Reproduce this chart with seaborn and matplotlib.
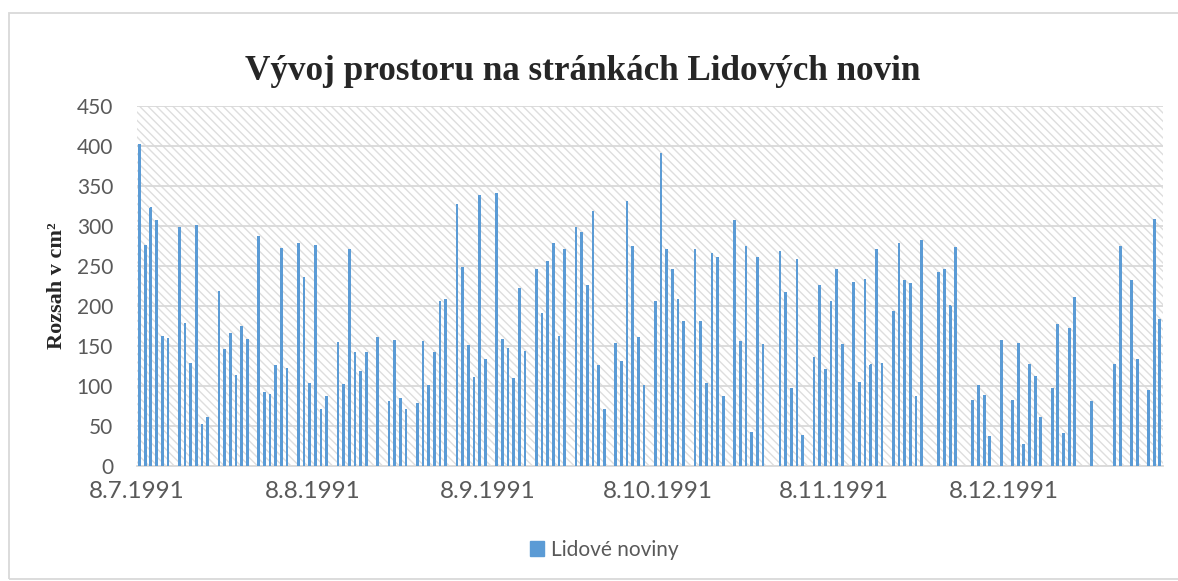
import pandas as pd
import seaborn as sns
import matplotlib.pyplot as plt
from matplotlib.patches import Rectangle, Patch

# vydaná čísla (bez nedělí a svátků) a rozsah v cm2
datum = [
    "8.7.1991", "9.7.1991", "10.7.1991", "11.7.1991", "12.7.1991", "13.7.1991",
    "15.7.1991", "16.7.1991", "17.7.1991", "18.7.1991", "19.7.1991", "20.7.1991",
    "22.7.1991", "23.7.1991", "24.7.1991", "25.7.1991", "26.7.1991", "27.7.1991",
    "29.7.1991", "30.7.1991", "31.7.1991", "1.8.1991", "2.8.1991", "3.8.1991",
    "5.8.1991", "6.8.1991", "7.8.1991", "8.8.1991", "9.8.1991", "10.8.1991",
    "12.8.1991", "13.8.1991", "14.8.1991", "15.8.1991", "16.8.1991", "17.8.1991",
    "19.8.1991", "21.8.1991", "22.8.1991", "23.8.1991", "24.8.1991",
    "26.8.1991", "27.8.1991", "28.8.1991", "29.8.1991", "30.8.1991", "31.8.1991",
    "2.9.1991", "3.9.1991", "4.9.1991", "5.9.1991", "6.9.1991", "7.9.1991",
    "9.9.1991", "10.9.1991", "11.9.1991", "12.9.1991", "13.9.1991", "14.9.1991",
    "16.9.1991", "17.9.1991", "18.9.1991", "19.9.1991", "20.9.1991", "21.9.1991",
    "23.9.1991", "24.9.1991", "25.9.1991", "26.9.1991", "27.9.1991", "28.9.1991",
    "30.9.1991", "1.10.1991", "2.10.1991", "3.10.1991", "4.10.1991", "5.10.1991",
    "7.10.1991", "8.10.1991", "9.10.1991", "10.10.1991", "11.10.1991", "12.10.1991",
    "14.10.1991", "15.10.1991", "16.10.1991", "17.10.1991", "18.10.1991", "19.10.1991",
    "21.10.1991", "22.10.1991", "23.10.1991", "24.10.1991", "25.10.1991", "26.10.1991",
    "29.10.1991", "30.10.1991", "31.10.1991", "1.11.1991", "2.11.1991",
    "4.11.1991", "5.11.1991", "6.11.1991", "7.11.1991", "8.11.1991", "9.11.1991",
    "11.11.1991", "12.11.1991", "13.11.1991", "14.11.1991", "15.11.1991", "16.11.1991",
    "18.11.1991", "19.11.1991", "20.11.1991", "21.11.1991", "22.11.1991", "23.11.1991",
    "26.11.1991", "27.11.1991", "28.11.1991", "29.11.1991",
    "2.12.1991", "3.12.1991", "4.12.1991", "5.12.1991", "7.12.1991",
    "9.12.1991", "10.12.1991", "11.12.1991", "12.12.1991", "13.12.1991", "14.12.1991",
    "16.12.1991", "17.12.1991", "18.12.1991", "19.12.1991", "20.12.1991",
    "23.12.1991", "27.12.1991", "28.12.1991", "30.12.1991", "31.12.1991",
    "2.1.1992", "3.1.1992", "4.1.1992",
]
rozsah = [
    402, 276, 323, 307, 162, 159,
    298, 178, 128, 300, 52, 60,
    218, 145, 165, 113, 174, 158,
    287, 91, 89, 125, 272, 121,
    278, 235, 103, 276, 70, 86,
    154, 102, 270, 141, 118, 142,
    160, 80, 157, 84, 70,
    78, 155, 100, 142, 206, 208,
    327, 248, 150, 110, 338, 133,
    341, 158, 147, 109, 222, 143,
    246, 190, 256, 278, 162, 270,
    298, 292, 225, 318, 125, 70,
    153, 130, 331, 274, 160, 100,
    206, 391, 270, 246, 208, 180,
    270, 180, 103, 266, 260, 86,
    307, 156, 274, 42, 260, 152,
    268, 217, 96, 258, 38,
    135, 226, 120, 206, 246, 152,
    229, 104, 233, 126, 270, 128,
    193, 278, 232, 228, 86, 282,
    242, 245, 200, 273,
    82, 100, 88, 36, 157,
    82, 153, 26, 126, 112, 60,
    97, 177, 40, 172, 210,
    80, 126, 274, 232, 133,
    94, 308, 183,
]
popisky_x = ["8.7.1991", "8.8.1991", "8.9.1991", "8.10.1991", "8.11.1991", "8.12.1991"]
popisky_y = [0, 50, 100, 150, 200, 250, 300, 350, 400, 450]

modra = "#5b9bd5"
seda = "#d9d9d9"
text_seda = "#595959"

df = pd.DataFrame({"datum": pd.to_datetime(datum, format="%d.%m.%Y"), "rozsah": rozsah})
dny = pd.date_range(df["datum"].min(), df["datum"].max(), freq="D")
df = df.set_index("datum").reindex(dny).rename_axis("datum").reset_index()
df["den"] = df["datum"].dt.strftime("%Y-%m-%d")

sns.set_style("white")
plt.rcParams["font.family"] = ["Lato", "DejaVu Sans"]
plt.rcParams["hatch.linewidth"] = 1.0

fig = plt.figure(figsize=(11.78, 5.81), dpi=100)
ax = fig.add_axes([136.7 / 1178, 1 - 465.7 / 581, 1026 / 1178, 359.7 / 581])

# šrafované pozadí plochy grafu
ax.add_patch(Rectangle((0, 0), 1, 1, transform=ax.transAxes, facecolor="white",
                       edgecolor="#dedede", hatch="\\\\\\\\", linewidth=0, zorder=0))

sns.barplot(data=df, x="den", y="rozsah", order=list(df["den"]), color=modra,
            saturation=1, width=0.31, errorbar=None, ax=ax, zorder=3, linewidth=0)
# tenké sloupce bez vyhlazení, ať mají všechny stejnou šířku
for p in ax.patches[1:]:
    p.set_antialiased(False)
    p.set_snap(False)

ax.set_xlim(-0.5, len(df) - 0.5)
ax.set_ylim(0, 450)
ax.set_yticks(popisky_y)
ax.grid(axis="y", color=seda, linewidth=1.3)
for ln in ax.get_ygridlines():
    ln.set_zorder(1)

pozice = [list(df["den"]).index(pd.to_datetime(d, format="%d.%m.%Y").strftime("%Y-%m-%d")) - 0.5
          for d in popisky_x]
ax.set_xticks(pozice)
ax.set_xticklabels(popisky_x)
ax.tick_params(axis="x", length=4, width=1.2, color=seda, labelsize=17.5, labelcolor=text_seda, pad=7)
ax.tick_params(axis="y", length=0, labelsize=15, labelcolor=text_seda, pad=17)
ax.set_xlabel("")
ax.set_ylabel("")
for s in ["top", "right", "left"]:
    ax.spines[s].set_visible(False)
ax.spines["bottom"].set_color(seda)
ax.spines["bottom"].set_linewidth(1.3)

fig.text(582.5 / 1178, 1 - 71 / 581, "Vývoj prostoru na stránkách Lidových novin",
         family="Liberation Serif", fontweight="bold", fontsize=25.3, ha="center", va="center")
fig.text(57 / 1178, 1 - 286 / 581, "Rozsah v cm²", family="Liberation Serif",
         fontweight="bold", fontsize=16, rotation=90, ha="center", va="center")

fig.legend(handles=[Patch(facecolor=modra, edgecolor=modra, label="Lidové noviny")],
           loc="center", bbox_to_anchor=(604 / 1178, 1 - 550 / 581), frameon=False,
           fontsize=15, labelcolor=text_seda, handlelength=0.7, handleheight=0.7,
           handletextpad=0.3)

fig.patches.append(Rectangle((9 / 1178, 2 / 581), 1.2, 1 - 15 / 581, transform=fig.transFigure,
                             fill=False, edgecolor=seda, linewidth=1.3))

fig.savefig("out.png", dpi=100)
